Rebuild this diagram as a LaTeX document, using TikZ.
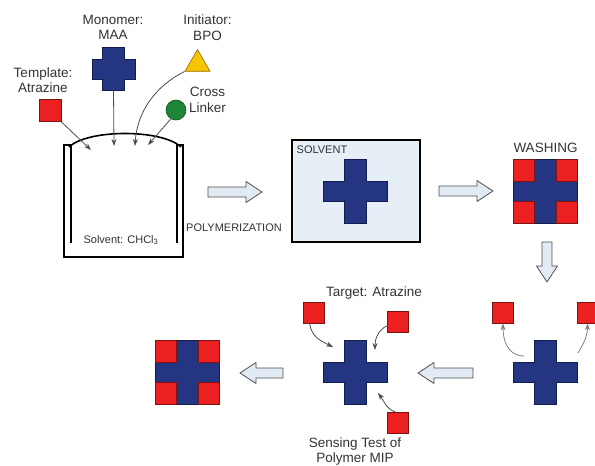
\documentclass[tikz,border=0pt]{standalone}
\usepackage{fontspec}
\setmainfont{Liberation Sans}
\usetikzlibrary{arrows.meta,shapes.geometric,calc}

\begin{document}
\begin{tikzpicture}[
    x=1pt, y=-1pt,
    >={Stealth[length=7pt,width=5pt]},
    lbl/.style={font=\fontsize{13.5}{15.5}\selectfont,align=center,text=black!80,inner sep=0pt},
    sml/.style={font=\fontsize{11}{13}\selectfont,text=black!80,inner sep=0pt},
    tmpl/.style={draw=tmplline,fill=tmplfill,line width=0.6pt,minimum size=21pt,inner sep=0pt},
    cavity/.style={tmpl,minimum width=21pt,minimum height=22pt},
    crossbody/.style={draw=crossline,fill=crossfill,line width=0.6pt},
    feed/.style={->,draw=black!70,line width=0.8pt},
    wall/.style={draw=black,line width=1.6pt},
    plus/.pic={
      \path[crossbody] (-#1,-10) -- (-11,-10) -- (-11,-#1) -- (11,-#1) -- (11,-10) -- (#1,-10)
        -- (#1,10) -- (11,10) -- (11,#1) -- (-11,#1) -- (-11,10) -- (-#1,10) -- cycle;
    },
    bigarrow/.pic={
      \path[draw=arrline,fill=arrfill,line width=0.8pt] (0,-5) -- (#1-16,-5) -- (#1-16,-10.5) -- (#1,0)
        -- (#1-16,10.5) -- (#1-16,5) -- (0,5) -- cycle;
    },
]
\definecolor{crossfill}{RGB}{36,54,130}  \definecolor{crossline}{RGB}{18,28,78}
\definecolor{tmplfill}{RGB}{236,32,32}   \definecolor{tmplline}{RGB}{125,20,20}
\definecolor{bpofill}{RGB}{246,196,0}    \definecolor{bpoline}{RGB}{150,110,0}
\definecolor{clfill}{RGB}{30,135,55}     \definecolor{clline}{RGB}{15,80,30}
\definecolor{boxfill}{RGB}{230,238,246}
\definecolor{arrfill}{RGB}{226,234,244}  \definecolor{arrline}{RGB}{80,80,80}

\useasboundingbox (0,0) rectangle (595,466);

% ================= reagents above the vessel =================
\node[lbl] (monoLbl) at (113,27.5) {Monomer:\\MAA};
\node[lbl] (initLbl) at (207.5,27.5) {Initiator:\\BPO};
\node[lbl] (tmplLbl) at (43,80) {Template:\\Atrazine};
\node[lbl] (clLbl) at (207.5,100) {Cross\\Linker};

\coordinate (maa) at (113.5,69);
\pic at (maa) {plus=21.5};
\node[tmpl,minimum size=22pt] (atz) at (50,110.5) {};
\node[regular polygon,regular polygon sides=3,draw=bpoline,fill=bpofill,line width=0.6pt,minimum size=29pt,inner sep=0pt] (bpo) at (197.5,64) {};
\node[circle,draw=clline,fill=clfill,line width=0.6pt,minimum size=20pt,inner sep=0pt] (cl) at (176,110) {};

% ================= the vessel =================
\draw[wall] (71,243) -- (71,145) -- (64,145) -- (64,257) -- (183,257) -- (183,145) -- (177,145) -- (177,243);
\draw[wall] (69,147) .. controls (88,129) and (162,129) .. (181,147);
\node[sml] (chclLbl) at (121,240) {Solvent: CHCl\textsubscript{3}};

\coordinate (tipT) at (91,150);
\coordinate (tipM) at (114,146);
\coordinate (tipI) at (135,146);
\coordinate (tipC) at (148,145);
\draw[feed] (atz.south east) -- (tipT);
\draw[feed] ([yshift=-21pt]maa) -- (tipM);
\draw[feed] (bpo.corner 2) .. controls +(-28,14) and +(2,-35) .. (tipI);
\draw[feed] (cl.240) -- (tipC);

% ================= polymerization in solvent =================
\pic at (208,192) {bigarrow=54};
\node[sml] (polyLbl) at (234,228) {POLYMERIZATION};

\node[draw=black,line width=1.8pt,fill=boxfill,minimum width=128pt,minimum height=102pt,inner sep=0pt] (solventbox) at (356,191) {};
\node[sml,anchor=west] (solvLbl) at (296.5,150) {SOLVENT};
\pic at (355.5,191) {plus=32};

% ================= washing =================
\pic at (439,191) {bigarrow=54};
\node[lbl] (washLbl) at (545.5,148) {WASHING};
\coordinate (wash) at (545.5,191.5);
\pic at (wash) {plus=32};
\foreach \nm/\sx/\sy in {nw/-1/-1,ne/1/-1,sw/-1/1,se/1/1}
  \node[cavity] (wash\nm) at ($(wash)+(21.5*\sx,21*\sy)$) {};

\pic[rotate=-90] at (547,242) {bigarrow=40};

% ================= template removed =================
\coordinate (mip) at (545.5,372.5);
\pic at (mip) {plus=32};
\node[tmpl] (outL) at (503,312.5) {};
\node[tmpl] (outR) at (587.5,312.5) {};
\coordinate (relL) at (524,356);
\coordinate (relR) at (578,353);
\draw[feed,draw=black!50] (relL) .. controls +(-17,0) and +(0,16) .. (outL.south);
\draw[feed,draw=black!50] (relR) .. controls +(6,-10) and +(0,12) .. (outR.south);

\pic[rotate=180] at (473,373) {bigarrow=55};

% ================= sensing test =================
\node[lbl] (tgtLbl) at (374,293) {Target: Atrazine};
\pic at (355.5,372.5) {plus=32};
\node[tmpl] (tgtA) at (313.5,312.5) {};
\node[tmpl] (tgtB) at (397.5,322) {};
\node[tmpl] (tgtC) at (397.5,423) {};
\coordinate (siteA) at (333,347);
\coordinate (siteB) at (375,350);
\coordinate (siteC) at (378,393);
\draw[feed] (tgtA.250) .. controls +(2,14) and +(-12,-6) .. (siteA);
\draw[feed] (tgtB.200) .. controls +(-8,4) and +(0,-12) .. (siteB);
\draw[feed] (tgtC.100) .. controls +(-10,-4) and +(6,8) .. (siteC);
\node[lbl] (senseLbl) at (355,451.5) {Sensing Test of\\Polymer MIP};

\pic[rotate=180] at (283,373) {bigarrow=43};

% ================= rebound MIP =================
\coordinate (bound) at (187,372.5);
\pic at (bound) {plus=32};
\foreach \nm/\sx/\sy in {nw/-1/-1,ne/1/-1,sw/-1/1,se/1/1}
  \node[cavity] (bound\nm) at ($(bound)+(21.5*\sx,21*\sy)$) {};

\end{tikzpicture}
\end{document}
